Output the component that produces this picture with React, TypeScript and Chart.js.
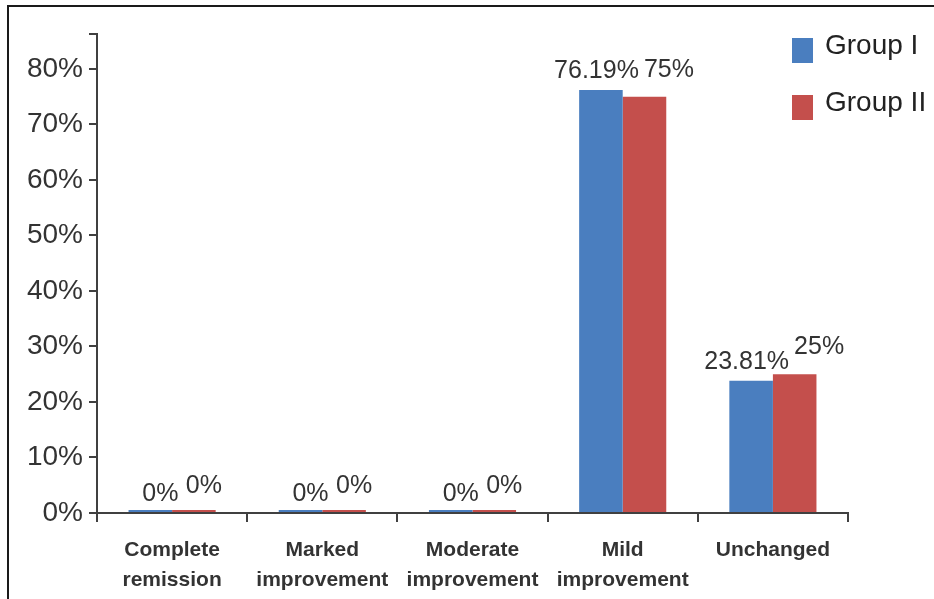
import React, { useEffect, useRef } from "react";
import { Chart, registerables } from "chart.js";

Chart.register(...registerables);

const categories: string[][] = [
  ["Complete", "remission"],
  ["Marked", "improvement"],
  ["Moderate", "improvement"],
  ["Mild", "improvement"],
  ["Unchanged"],
];
const seriesNames = ["Group I", "Group II"];
const groupI = [0, 0, 0, 76.19, 23.81];
const groupII = [0, 0, 0, 75, 25];
const yTicks = [0, 10, 20, 30, 40, 50, 60, 70, 80];
const yMax = 86.3;

const BLUE = "#4A7EBF";
const RED = "#C44F4C";
const AXIS = "#404040";
const TEXT = "#333333";
const FONT = "'Liberation Sans', Arial, sans-serif";

const framePlugin = {
  id: "frame",
  beforeDraw(chart: any) {
    const { ctx, width, height } = chart;
    ctx.save();
    ctx.fillStyle = "#ffffff";
    ctx.fillRect(0, 0, width, height);
    ctx.strokeStyle = "#1a1a1a";
    ctx.lineWidth = 2;
    ctx.beginPath();
    ctx.moveTo(8, height);
    ctx.lineTo(8, 6);
    ctx.lineTo(width, 6);
    ctx.stroke();
    ctx.restore();
  },
};

const labelPlugin = {
  id: "valueLabels",
  afterDatasetsDraw(chart: any) {
    const { ctx } = chart;
    ctx.save();
    ctx.font = `25px ${FONT}`;
    ctx.fillStyle = TEXT;
    ctx.textAlign = "center";
    ctx.textBaseline = "middle";
    const m0 = chart.getDatasetMeta(0);
    const m1 = chart.getDatasetMeta(1);
    const d0 = chart.data.datasets[0].data;
    const d1 = chart.data.datasets[1].data;
    const ys = chart.scales.y;
    m0.data.forEach((el0: any, i: number) => {
      const el1 = m1.data[i];
      const t0 = `${d0[i]}%`;
      const t1 = `${d1[i]}%`;
      const w0 = ctx.measureText(t0).width;
      const w1 = ctx.measureText(t1).width;
      let x0 = el0.x + 10;
      let x1 = el1.x + 10;
      const overlap = x0 + w0 / 2 + 5 - (x1 - w1 / 2);
      if (overlap > 0) {
        x0 -= overlap / 2;
        x1 += overlap / 2;
      }
      ctx.fillText(t0, x0, ys.getPixelForValue(d0[i]) - 19);
      ctx.fillText(t1, x1, ys.getPixelForValue(d1[i]) - 27);
    });
    ctx.restore();
  },
};

const legendPlugin = {
  id: "customLegend",
  afterDraw(chart: any) {
    const { ctx } = chart;
    ctx.save();
    ctx.font = `28px ${FONT}`;
    ctx.textAlign = "left";
    ctx.textBaseline = "middle";
    chart.data.datasets.forEach((ds: any, di: number) => {
      const cy = 50 + di * 57;
      ctx.fillStyle = ds.backgroundColor;
      ctx.fillRect(792, cy - 12, 21, 25);
      ctx.fillStyle = "#222222";
      ctx.fillText(ds.label, 825, cy - 4);
    });
    ctx.restore();
  },
};

export default function App() {
  const ref = useRef<HTMLCanvasElement | null>(null);
  useEffect(() => {
    document.body.style.margin = "0";
    if (!ref.current) return;
    const chart = new Chart(ref.current, {
      type: "bar",
      data: {
        labels: categories,
        datasets: [
          {
            label: seriesNames[0],
            data: groupI,
            backgroundColor: BLUE,
            categoryPercentage: 0.58,
            barPercentage: 1,
            minBarLength: 3,
          },
          {
            label: seriesNames[1],
            data: groupII,
            backgroundColor: RED,
            categoryPercentage: 0.58,
            barPercentage: 1,
            minBarLength: 3,
          },
        ],
      },
      options: {
        animation: false,
        responsive: false,
        devicePixelRatio: 1,
        layout: { padding: { top: 34, right: 86, left: 0, bottom: 0 } },
        plugins: {
          legend: { display: false },
          tooltip: { enabled: false },
        },
        scales: {
          x: {
            afterFit: (s: any) => {
              s.height = 86;
            },
            grid: {
              offset: true,
              drawOnChartArea: false,
              drawTicks: true,
              tickLength: 9,
              color: AXIS,
              lineWidth: 2,
            },
            border: { display: true, color: AXIS, width: 2 },
            ticks: {
              color: TEXT,
              font: { family: FONT, size: 21, weight: "bold", lineHeight: 1.45 },
              padding: 13,
              maxRotation: 0,
              autoSkip: false,
            },
          },
          y: {
            min: 0,
            max: yMax,
            afterFit: (s: any) => {
              s.width = 97;
            },
            afterBuildTicks: (s: any) => {
              s.ticks = [...yTicks, yMax].map((v) => ({ value: v }));
            },
            grid: {
              drawOnChartArea: false,
              drawTicks: true,
              tickLength: 8,
              color: AXIS,
              lineWidth: 2,
            },
            border: { display: true, color: AXIS, width: 2 },
            ticks: {
              color: TEXT,
              font: { family: FONT, size: 28 },
              padding: 6,
              callback: (v: any) => (yTicks.includes(Number(v)) ? `${v}%` : ""),
            },
          },
        },
      },
      plugins: [framePlugin, labelPlugin, legendPlugin],
    });
    return () => chart.destroy();
  }, []);
  return (
    <div style={{ width: 934, height: 599 }}>
      <canvas ref={ref} width={934} height={599} style={{ display: "block" }} />
    </div>
  );
}
